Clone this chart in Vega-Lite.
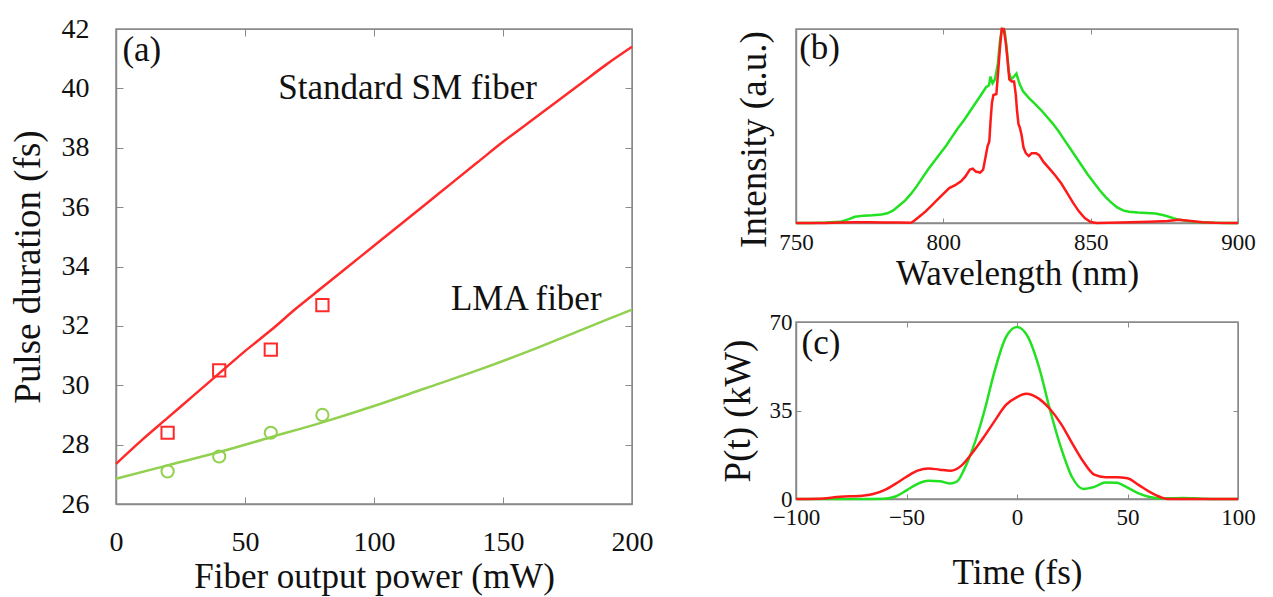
{
  "$schema": "https://vega.github.io/schema/vega-lite/v6.json",
  "padding": {"top": 14, "left": 8, "right": 5, "bottom": 5},
  "spacing": 64,
  "resolve": {"scale": {"color": "independent", "shape": "independent"}},
  "datasets": {
    "pulseFit": [
      {"power": 0, "duration": 27.35, "fiber": "Standard SM"},
      {"power": 10, "duration": 28.15, "fiber": "Standard SM"},
      {"power": 20, "duration": 28.9, "fiber": "Standard SM"},
      {"power": 30, "duration": 29.65, "fiber": "Standard SM"},
      {"power": 40, "duration": 30.4, "fiber": "Standard SM"},
      {"power": 50, "duration": 31.15, "fiber": "Standard SM"},
      {"power": 60, "duration": 31.85, "fiber": "Standard SM"},
      {"power": 70, "duration": 32.6, "fiber": "Standard SM"},
      {"power": 80, "duration": 33.3, "fiber": "Standard SM"},
      {"power": 90, "duration": 34.0, "fiber": "Standard SM"},
      {"power": 100, "duration": 34.7, "fiber": "Standard SM"},
      {"power": 110, "duration": 35.4, "fiber": "Standard SM"},
      {"power": 120, "duration": 36.1, "fiber": "Standard SM"},
      {"power": 130, "duration": 36.8, "fiber": "Standard SM"},
      {"power": 140, "duration": 37.5, "fiber": "Standard SM"},
      {"power": 150, "duration": 38.2, "fiber": "Standard SM"},
      {"power": 160, "duration": 38.85, "fiber": "Standard SM"},
      {"power": 170, "duration": 39.5, "fiber": "Standard SM"},
      {"power": 180, "duration": 40.15, "fiber": "Standard SM"},
      {"power": 190, "duration": 40.8, "fiber": "Standard SM"},
      {"power": 200, "duration": 41.4, "fiber": "Standard SM"},
      {"power": 0, "duration": 26.85, "fiber": "LMA"},
      {"power": 20, "duration": 27.3, "fiber": "LMA"},
      {"power": 40, "duration": 27.75, "fiber": "LMA"},
      {"power": 60, "duration": 28.25, "fiber": "LMA"},
      {"power": 80, "duration": 28.75, "fiber": "LMA"},
      {"power": 100, "duration": 29.3, "fiber": "LMA"},
      {"power": 120, "duration": 29.9, "fiber": "LMA"},
      {"power": 140, "duration": 30.5, "fiber": "LMA"},
      {"power": 160, "duration": 31.15, "fiber": "LMA"},
      {"power": 180, "duration": 31.85, "fiber": "LMA"},
      {"power": 200, "duration": 32.55, "fiber": "LMA"}
    ],
    "pulseMeasured": [
      {"power": 20, "duration": 28.4, "fiber": "Standard SM"},
      {"power": 40, "duration": 30.5, "fiber": "Standard SM"},
      {"power": 60, "duration": 31.2, "fiber": "Standard SM"},
      {"power": 80, "duration": 32.7, "fiber": "Standard SM"},
      {"power": 20, "duration": 27.1, "fiber": "LMA"},
      {"power": 40, "duration": 27.6, "fiber": "LMA"},
      {"power": 60, "duration": 28.4, "fiber": "LMA"},
      {"power": 80, "duration": 29.0, "fiber": "LMA"}
    ],
    "labelsA": [
      {"power": 10, "duration": 41.3, "label": "(a)"},
      {"power": 113, "duration": 40.0, "label": "Standard SM fiber"},
      {"power": 159, "duration": 32.9, "label": "LMA fiber"}
    ],
    "spectrum": [
      {"wl": 750, "I": 0, "fiber": "LMA"},
      {"wl": 755, "I": 0, "fiber": "LMA"},
      {"wl": 760, "I": 0.002, "fiber": "LMA"},
      {"wl": 765, "I": 0.006, "fiber": "LMA"},
      {"wl": 768, "I": 0.02, "fiber": "LMA"},
      {"wl": 770, "I": 0.032, "fiber": "LMA"},
      {"wl": 773, "I": 0.038, "fiber": "LMA"},
      {"wl": 776, "I": 0.04, "fiber": "LMA"},
      {"wl": 779, "I": 0.044, "fiber": "LMA"},
      {"wl": 781, "I": 0.05, "fiber": "LMA"},
      {"wl": 783, "I": 0.065, "fiber": "LMA"},
      {"wl": 785, "I": 0.09, "fiber": "LMA"},
      {"wl": 787, "I": 0.115, "fiber": "LMA"},
      {"wl": 789, "I": 0.15, "fiber": "LMA"},
      {"wl": 791, "I": 0.19, "fiber": "LMA"},
      {"wl": 793, "I": 0.235, "fiber": "LMA"},
      {"wl": 795, "I": 0.28, "fiber": "LMA"},
      {"wl": 797, "I": 0.32, "fiber": "LMA"},
      {"wl": 799, "I": 0.36, "fiber": "LMA"},
      {"wl": 801, "I": 0.4, "fiber": "LMA"},
      {"wl": 803, "I": 0.445, "fiber": "LMA"},
      {"wl": 805, "I": 0.49, "fiber": "LMA"},
      {"wl": 807, "I": 0.53, "fiber": "LMA"},
      {"wl": 809, "I": 0.575, "fiber": "LMA"},
      {"wl": 811, "I": 0.62, "fiber": "LMA"},
      {"wl": 813, "I": 0.665, "fiber": "LMA"},
      {"wl": 814.5, "I": 0.7, "fiber": "LMA"},
      {"wl": 815.5, "I": 0.71, "fiber": "LMA"},
      {"wl": 816, "I": 0.755, "fiber": "LMA"},
      {"wl": 816.7, "I": 0.72, "fiber": "LMA"},
      {"wl": 817.5, "I": 0.74, "fiber": "LMA"},
      {"wl": 818.5, "I": 0.82, "fiber": "LMA"},
      {"wl": 819.3, "I": 0.95, "fiber": "LMA"},
      {"wl": 820, "I": 1.0, "fiber": "LMA"},
      {"wl": 820.8, "I": 0.99, "fiber": "LMA"},
      {"wl": 821.5, "I": 0.9, "fiber": "LMA"},
      {"wl": 822.2, "I": 0.78, "fiber": "LMA"},
      {"wl": 823, "I": 0.74, "fiber": "LMA"},
      {"wl": 824, "I": 0.755, "fiber": "LMA"},
      {"wl": 824.8, "I": 0.77, "fiber": "LMA"},
      {"wl": 825.8, "I": 0.72, "fiber": "LMA"},
      {"wl": 827, "I": 0.68, "fiber": "LMA"},
      {"wl": 829, "I": 0.645, "fiber": "LMA"},
      {"wl": 831, "I": 0.615, "fiber": "LMA"},
      {"wl": 833, "I": 0.585, "fiber": "LMA"},
      {"wl": 835, "I": 0.55, "fiber": "LMA"},
      {"wl": 837, "I": 0.515, "fiber": "LMA"},
      {"wl": 839, "I": 0.475, "fiber": "LMA"},
      {"wl": 841, "I": 0.43, "fiber": "LMA"},
      {"wl": 843, "I": 0.385, "fiber": "LMA"},
      {"wl": 845, "I": 0.34, "fiber": "LMA"},
      {"wl": 847, "I": 0.295, "fiber": "LMA"},
      {"wl": 849, "I": 0.25, "fiber": "LMA"},
      {"wl": 851, "I": 0.21, "fiber": "LMA"},
      {"wl": 853, "I": 0.17, "fiber": "LMA"},
      {"wl": 855, "I": 0.135, "fiber": "LMA"},
      {"wl": 857, "I": 0.105, "fiber": "LMA"},
      {"wl": 859, "I": 0.08, "fiber": "LMA"},
      {"wl": 861, "I": 0.065, "fiber": "LMA"},
      {"wl": 863, "I": 0.058, "fiber": "LMA"},
      {"wl": 866, "I": 0.054, "fiber": "LMA"},
      {"wl": 869, "I": 0.052, "fiber": "LMA"},
      {"wl": 872, "I": 0.049, "fiber": "LMA"},
      {"wl": 874, "I": 0.043, "fiber": "LMA"},
      {"wl": 876, "I": 0.035, "fiber": "LMA"},
      {"wl": 878, "I": 0.025, "fiber": "LMA"},
      {"wl": 880, "I": 0.017, "fiber": "LMA"},
      {"wl": 883, "I": 0.01, "fiber": "LMA"},
      {"wl": 886, "I": 0.005, "fiber": "LMA"},
      {"wl": 890, "I": 0.002, "fiber": "LMA"},
      {"wl": 895, "I": 0, "fiber": "LMA"},
      {"wl": 900, "I": 0, "fiber": "LMA"},
      {"wl": 750, "I": 0, "fiber": "Standard SM"},
      {"wl": 760, "I": 0, "fiber": "Standard SM"},
      {"wl": 765, "I": 0.003, "fiber": "Standard SM"},
      {"wl": 770, "I": 0.004, "fiber": "Standard SM"},
      {"wl": 775, "I": 0.004, "fiber": "Standard SM"},
      {"wl": 780, "I": 0.003, "fiber": "Standard SM"},
      {"wl": 785, "I": 0.002, "fiber": "Standard SM"},
      {"wl": 789, "I": 0.001, "fiber": "Standard SM"},
      {"wl": 790, "I": 0.01, "fiber": "Standard SM"},
      {"wl": 792, "I": 0.035, "fiber": "Standard SM"},
      {"wl": 794, "I": 0.06, "fiber": "Standard SM"},
      {"wl": 796, "I": 0.09, "fiber": "Standard SM"},
      {"wl": 798, "I": 0.12, "fiber": "Standard SM"},
      {"wl": 800, "I": 0.15, "fiber": "Standard SM"},
      {"wl": 802, "I": 0.18, "fiber": "Standard SM"},
      {"wl": 804, "I": 0.195, "fiber": "Standard SM"},
      {"wl": 806, "I": 0.215, "fiber": "Standard SM"},
      {"wl": 807.5, "I": 0.24, "fiber": "Standard SM"},
      {"wl": 809, "I": 0.275, "fiber": "Standard SM"},
      {"wl": 810, "I": 0.28, "fiber": "Standard SM"},
      {"wl": 811, "I": 0.265, "fiber": "Standard SM"},
      {"wl": 812.5, "I": 0.26, "fiber": "Standard SM"},
      {"wl": 813.5, "I": 0.275, "fiber": "Standard SM"},
      {"wl": 814.2, "I": 0.33, "fiber": "Standard SM"},
      {"wl": 815, "I": 0.395, "fiber": "Standard SM"},
      {"wl": 815.6, "I": 0.42, "fiber": "Standard SM"},
      {"wl": 816, "I": 0.52, "fiber": "Standard SM"},
      {"wl": 816.5, "I": 0.62, "fiber": "Standard SM"},
      {"wl": 817, "I": 0.66, "fiber": "Standard SM"},
      {"wl": 818, "I": 0.665, "fiber": "Standard SM"},
      {"wl": 818.5, "I": 0.76, "fiber": "Standard SM"},
      {"wl": 819.2, "I": 0.9, "fiber": "Standard SM"},
      {"wl": 819.8, "I": 1.0, "fiber": "Standard SM"},
      {"wl": 820.5, "I": 1.0, "fiber": "Standard SM"},
      {"wl": 821.2, "I": 0.93, "fiber": "Standard SM"},
      {"wl": 821.8, "I": 0.84, "fiber": "Standard SM"},
      {"wl": 822.4, "I": 0.74, "fiber": "Standard SM"},
      {"wl": 823.2, "I": 0.73, "fiber": "Standard SM"},
      {"wl": 824, "I": 0.73, "fiber": "Standard SM"},
      {"wl": 824.6, "I": 0.66, "fiber": "Standard SM"},
      {"wl": 825, "I": 0.58, "fiber": "Standard SM"},
      {"wl": 825.5, "I": 0.51, "fiber": "Standard SM"},
      {"wl": 826, "I": 0.49, "fiber": "Standard SM"},
      {"wl": 826.6, "I": 0.45, "fiber": "Standard SM"},
      {"wl": 827.2, "I": 0.39, "fiber": "Standard SM"},
      {"wl": 828, "I": 0.36, "fiber": "Standard SM"},
      {"wl": 829, "I": 0.345, "fiber": "Standard SM"},
      {"wl": 830, "I": 0.36, "fiber": "Standard SM"},
      {"wl": 831.5, "I": 0.36, "fiber": "Standard SM"},
      {"wl": 832.5, "I": 0.35, "fiber": "Standard SM"},
      {"wl": 834, "I": 0.315, "fiber": "Standard SM"},
      {"wl": 836, "I": 0.28, "fiber": "Standard SM"},
      {"wl": 838, "I": 0.245, "fiber": "Standard SM"},
      {"wl": 840, "I": 0.205, "fiber": "Standard SM"},
      {"wl": 842, "I": 0.155, "fiber": "Standard SM"},
      {"wl": 844, "I": 0.105, "fiber": "Standard SM"},
      {"wl": 846, "I": 0.06, "fiber": "Standard SM"},
      {"wl": 848, "I": 0.025, "fiber": "Standard SM"},
      {"wl": 850, "I": 0.005, "fiber": "Standard SM"},
      {"wl": 852, "I": 0, "fiber": "Standard SM"},
      {"wl": 860, "I": 0.002, "fiber": "Standard SM"},
      {"wl": 870, "I": 0.006, "fiber": "Standard SM"},
      {"wl": 876, "I": 0.01, "fiber": "Standard SM"},
      {"wl": 880, "I": 0.017, "fiber": "Standard SM"},
      {"wl": 884, "I": 0.01, "fiber": "Standard SM"},
      {"wl": 888, "I": 0.004, "fiber": "Standard SM"},
      {"wl": 892, "I": 0.001, "fiber": "Standard SM"},
      {"wl": 900, "I": 0, "fiber": "Standard SM"}
    ],
    "labelsB": [
      {"wl": 758, "I": 0.9, "label": "(b)"}
    ],
    "peakPower": [
      {"t": -100, "P": 0, "fiber": "LMA"},
      {"t": -70, "P": 0, "fiber": "LMA"},
      {"t": -60, "P": 0.1, "fiber": "LMA"},
      {"t": -55, "P": 1.0, "fiber": "LMA"},
      {"t": -50, "P": 3.4, "fiber": "LMA"},
      {"t": -45, "P": 6.0, "fiber": "LMA"},
      {"t": -40, "P": 7.2, "fiber": "LMA"},
      {"t": -35, "P": 7.0, "fiber": "LMA"},
      {"t": -30, "P": 6.1, "fiber": "LMA"},
      {"t": -27, "P": 7.0, "fiber": "LMA"},
      {"t": -24, "P": 11.5, "fiber": "LMA"},
      {"t": -20, "P": 20, "fiber": "LMA"},
      {"t": -15, "P": 34, "fiber": "LMA"},
      {"t": -10, "P": 51, "fiber": "LMA"},
      {"t": -5, "P": 64, "fiber": "LMA"},
      {"t": 0, "P": 68, "fiber": "LMA"},
      {"t": 5, "P": 64, "fiber": "LMA"},
      {"t": 10, "P": 52, "fiber": "LMA"},
      {"t": 15, "P": 35, "fiber": "LMA"},
      {"t": 20, "P": 20, "fiber": "LMA"},
      {"t": 25, "P": 8.5, "fiber": "LMA"},
      {"t": 30, "P": 4.0, "fiber": "LMA"},
      {"t": 35, "P": 4.8, "fiber": "LMA"},
      {"t": 40, "P": 6.5, "fiber": "LMA"},
      {"t": 45, "P": 6.4, "fiber": "LMA"},
      {"t": 50, "P": 4.5, "fiber": "LMA"},
      {"t": 55, "P": 2.2, "fiber": "LMA"},
      {"t": 60, "P": 0.8, "fiber": "LMA"},
      {"t": 65, "P": 0.2, "fiber": "LMA"},
      {"t": 70, "P": 0.3, "fiber": "LMA"},
      {"t": 75, "P": 0.4, "fiber": "LMA"},
      {"t": 80, "P": 0.3, "fiber": "LMA"},
      {"t": 85, "P": 0.1, "fiber": "LMA"},
      {"t": 90, "P": 0, "fiber": "LMA"},
      {"t": 100, "P": 0, "fiber": "LMA"},
      {"t": -100, "P": 0, "fiber": "Standard SM"},
      {"t": -90, "P": 0.1, "fiber": "Standard SM"},
      {"t": -80, "P": 0.9, "fiber": "Standard SM"},
      {"t": -70, "P": 1.3, "fiber": "Standard SM"},
      {"t": -65, "P": 2.0, "fiber": "Standard SM"},
      {"t": -60, "P": 3.5, "fiber": "Standard SM"},
      {"t": -55, "P": 6.0, "fiber": "Standard SM"},
      {"t": -50, "P": 8.8, "fiber": "Standard SM"},
      {"t": -45, "P": 11.2, "fiber": "Standard SM"},
      {"t": -40, "P": 12.1, "fiber": "Standard SM"},
      {"t": -35, "P": 11.6, "fiber": "Standard SM"},
      {"t": -30, "P": 11.2, "fiber": "Standard SM"},
      {"t": -25, "P": 13.3, "fiber": "Standard SM"},
      {"t": -20, "P": 18.5, "fiber": "Standard SM"},
      {"t": -15, "P": 24.5, "fiber": "Standard SM"},
      {"t": -10, "P": 31, "fiber": "Standard SM"},
      {"t": -5, "P": 37.2, "fiber": "Standard SM"},
      {"t": 0, "P": 40.3, "fiber": "Standard SM"},
      {"t": 4, "P": 41.6, "fiber": "Standard SM"},
      {"t": 10, "P": 39.6, "fiber": "Standard SM"},
      {"t": 15, "P": 35.5, "fiber": "Standard SM"},
      {"t": 20, "P": 29.6, "fiber": "Standard SM"},
      {"t": 25, "P": 22, "fiber": "Standard SM"},
      {"t": 30, "P": 14.8, "fiber": "Standard SM"},
      {"t": 35, "P": 9.6, "fiber": "Standard SM"},
      {"t": 40, "P": 8.6, "fiber": "Standard SM"},
      {"t": 45, "P": 8.6, "fiber": "Standard SM"},
      {"t": 50, "P": 8.2, "fiber": "Standard SM"},
      {"t": 55, "P": 5.6, "fiber": "Standard SM"},
      {"t": 60, "P": 2.8, "fiber": "Standard SM"},
      {"t": 65, "P": 0.7, "fiber": "Standard SM"},
      {"t": 68, "P": 0, "fiber": "Standard SM"},
      {"t": 100, "P": 0, "fiber": "Standard SM"}
    ],
    "labelsC": [
      {"t": -88.7, "P": 61.7, "label": "(c)"}
    ]
  },
  "hconcat": [
    {
      "width": 516,
      "height": 475,
      "view": {"stroke": "#8a8a8a", "strokeWidth": 1.5},
      "resolve": {"axis": {"x": "independent", "y": "independent"}},
      "layer": [
        {
          "data": {"name": "pulseFit"},
          "mark": {"type": "line", "strokeWidth": 2.5, "interpolate": "monotone"},
          "encoding": {
            "x": {"field": "power", "type": "quantitative", "scale": {"domain": [0, 200], "nice": false},
              "axis": {"orient": "bottom", "title": "Fiber output power (mW)", "values": [0, 50, 100, 150, 200], "grid": false, "labelFlush": false, "domainColor": "#8a8a8a", "domainWidth": 1.5, "tickColor": "#8a8a8a", "tickSize": -7, "labelPadding": 31, "labelFont": "Liberation Serif", "titleFont": "Liberation Serif", "labelColor": "#111111", "titleColor": "#111111", "titleFontWeight": "normal", "labelFontSize": 28, "titleFontSize": 35, "titlePadding": 3}},
            "y": {"field": "duration", "type": "quantitative", "scale": {"domain": [26, 42], "nice": false, "zero": false},
              "axis": {"orient": "left", "title": "Pulse duration (fs)", "values": [26, 28, 30, 32, 34, 36, 38, 40, 42], "grid": false, "labelFlush": false, "domainColor": "#8a8a8a", "domainWidth": 1.5, "tickColor": "#8a8a8a", "tickSize": -7, "labelPadding": 34, "labelFont": "Liberation Serif", "titleFont": "Liberation Serif", "labelColor": "#111111", "titleColor": "#111111", "titleFontWeight": "normal", "labelFontSize": 28, "titleFontSize": 37, "titlePadding": 14}},
            "color": {"field": "fiber", "type": "nominal", "scale": {"domain": ["Standard SM", "LMA"], "range": ["#ff2a2a", "#92d050"]}, "legend": null}
          }
        },
        {
          "data": {"name": "pulseMeasured"},
          "mark": {"type": "point", "filled": false, "opacity": 1, "strokeWidth": 2, "size": 150},
          "encoding": {
            "x": {"field": "power", "type": "quantitative", "scale": {"domain": [0, 200], "nice": false},
              "axis": {"orient": "top", "title": null, "labels": false, "grid": false, "domainColor": "#8a8a8a", "tickColor": "#8a8a8a", "values": [50, 100, 150], "tickSize": -7}},
            "y": {"field": "duration", "type": "quantitative", "scale": {"domain": [26, 42], "nice": false, "zero": false},
              "axis": {"orient": "right", "title": null, "labels": false, "grid": false, "domainColor": "#8a8a8a", "tickColor": "#8a8a8a", "values": [28, 30, 32, 34, 36, 38, 40], "tickSize": -7}},
            "color": {"field": "fiber", "type": "nominal", "scale": {"domain": ["Standard SM", "LMA"], "range": ["#ff2a2a", "#92d050"]}, "legend": null},
            "shape": {"field": "fiber", "type": "nominal", "scale": {"domain": ["Standard SM", "LMA"], "range": ["square", "circle"]}, "legend": null}
          }
        },
        {
          "data": {"name": "labelsA"},
          "mark": {"type": "text", "font": "Liberation Serif", "fontSize": 35, "color": "#111111", "baseline": "middle"},
          "encoding": {
            "x": {"field": "power", "type": "quantitative", "axis": null},
            "y": {"field": "duration", "type": "quantitative", "axis": null},
            "text": {"field": "label"}
          }
        }
      ]
    },
    {
      "spacing": 18,
      "vconcat": [
        {
          "width": 442,
          "height": 194,
          "view": {"stroke": "#8a8a8a", "strokeWidth": 1.5},
          "resolve": {"axis": {"x": "independent", "y": "independent"}},
          "layer": [
            {
              "data": {"name": "spectrum"},
              "mark": {"type": "line", "strokeWidth": 2.5},
              "encoding": {
                "x": {"field": "wl", "type": "quantitative", "scale": {"domain": [750, 900], "nice": false, "zero": false},
                  "axis": {"orient": "bottom", "title": "Wavelength (nm)", "values": [750, 800, 850, 900], "grid": false, "labelFlush": false, "domainColor": "#8a8a8a", "domainWidth": 1.5, "tickColor": "#8a8a8a", "tickSize": -5, "labelPadding": 13, "labelFont": "Liberation Serif", "titleFont": "Liberation Serif", "labelColor": "#111111", "titleColor": "#111111", "titleFontWeight": "normal", "labelFontSize": 23, "titleFontSize": 35, "titlePadding": 2}},
                "y": {"field": "I", "type": "quantitative", "scale": {"domain": [0, 1], "nice": false},
                  "axis": {"orient": "left", "title": "Intensity (a.u.)", "labels": false, "ticks": false, "grid": false, "domainColor": "#8a8a8a", "domainWidth": 1.5, "titleFont": "Liberation Serif", "titleColor": "#111111", "titleFontWeight": "normal", "titleFontSize": 37, "titlePadding": 23, "titleY": 110}},
                "color": {"field": "fiber", "type": "nominal", "scale": {"domain": ["LMA", "Standard SM"], "range": ["#22e022", "#ff1a1a"]}, "legend": null}
              }
            },
            {
              "data": {"name": "labelsB"},
              "mark": {"type": "text", "font": "Liberation Serif", "fontSize": 35, "color": "#111111", "baseline": "middle"},
              "encoding": {
                "x": {"field": "wl", "type": "quantitative", "axis": {"orient": "top", "title": null, "labels": false, "grid": false, "domainColor": "#8a8a8a", "tickColor": "#8a8a8a", "values": [800, 850], "tickSize": -5}},
                "y": {"field": "I", "type": "quantitative", "axis": null},
                "text": {"field": "label"}
              }
            }
          ]
        },
        {
          "width": 442,
          "height": 177,
          "view": {"stroke": "#8a8a8a", "strokeWidth": 1.5},
          "resolve": {"axis": {"x": "independent", "y": "independent"}},
          "layer": [
            {
              "data": {"name": "peakPower"},
              "mark": {"type": "line", "strokeWidth": 2.5, "interpolate": "monotone"},
              "encoding": {
                "x": {"field": "t", "type": "quantitative", "scale": {"domain": [-100, 100], "nice": false},
                  "axis": {"orient": "bottom", "title": "Time (fs)", "values": [-100, -50, 0, 50, 100], "grid": false, "labelFlush": false, "domainColor": "#8a8a8a", "domainWidth": 1.5, "tickColor": "#8a8a8a", "tickSize": -5, "labelPadding": 12, "labelFont": "Liberation Serif", "titleFont": "Liberation Serif", "labelColor": "#111111", "titleColor": "#111111", "titleFontWeight": "normal", "labelFontSize": 23, "titleFontSize": 35, "titlePadding": 26}},
                "y": {"field": "P", "type": "quantitative", "scale": {"domain": [0, 70], "nice": false},
                  "axis": {"orient": "left", "title": "P(t) (kW)", "values": [0, 35, 70], "grid": false, "labelFlush": false, "domainColor": "#8a8a8a", "domainWidth": 1.5, "tickColor": "#8a8a8a", "tickSize": -5, "labelPadding": 9, "labelFont": "Liberation Serif", "titleFont": "Liberation Serif", "labelColor": "#111111", "titleColor": "#111111", "titleFontWeight": "normal", "labelFontSize": 23, "titleFontSize": 37, "titlePadding": 12}},
                "color": {"field": "fiber", "type": "nominal", "scale": {"domain": ["LMA", "Standard SM"], "range": ["#22e022", "#ff1a1a"]}, "legend": null}
              }
            },
            {
              "data": {"name": "labelsC"},
              "mark": {"type": "text", "font": "Liberation Serif", "fontSize": 35, "color": "#111111", "baseline": "middle"},
              "encoding": {
                "x": {"field": "t", "type": "quantitative", "axis": {"orient": "top", "title": null, "labels": false, "grid": false, "domainColor": "#8a8a8a", "tickColor": "#8a8a8a", "values": [-50, 0, 50], "tickSize": -5}},
                "y": {"field": "P", "type": "quantitative", "axis": {"orient": "right", "title": null, "labels": false, "grid": false, "domainColor": "#8a8a8a", "tickColor": "#8a8a8a", "values": [35], "tickSize": -5}},
                "text": {"field": "label"}
              }
            }
          ]
        }
      ]
    }
  ]
}
